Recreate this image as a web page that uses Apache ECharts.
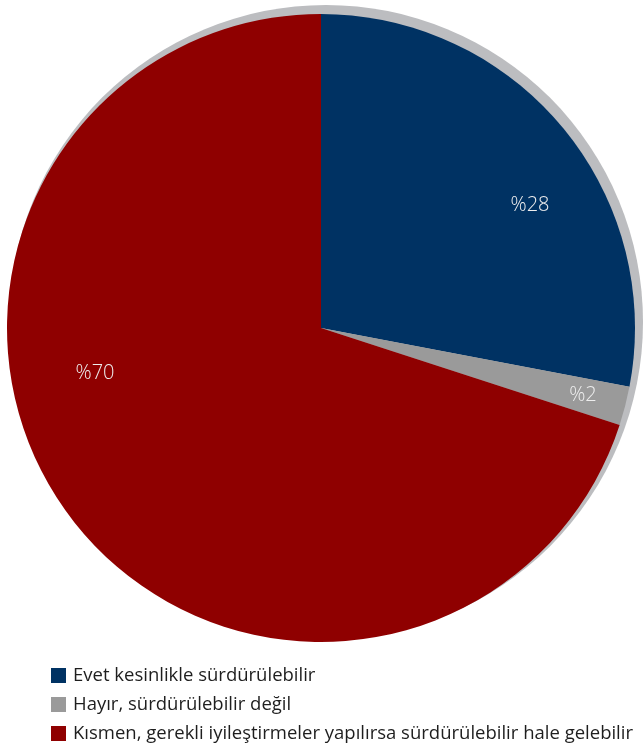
<!DOCTYPE html>
<html>
<head>
<meta charset="utf-8">
<style>
  html, body { margin: 0; padding: 0; background: #ffffff; }
  #chart { width: 643px; height: 747px; }
</style>
<script src="https://cdn.jsdelivr.net/npm/echarts@6/dist/echarts.min.js"></script>
</head>
<body>
<div id="chart"></div>
<script>
// Answers to "is it sustainable?" (percent of respondents)
const categories = [
  'Evet kesinlikle sürdürülebilir',
  'Hayır, sürdürülebilir değil',
  'Kısmen, gerekli iyileştirmeler yapılırsa sürdürülebilir hale gelebilir'
];
const values = [28, 2, 70];
const colors = ['#003263', '#9a9a9a', '#8f0000'];

// Label anchor points (pixel) for the percentage labels
const labelSpots = [[530, 205], [583, 395], [95, 373]];

const FONT = '"Open Sans", "Noto Sans", sans-serif';

const chart = echarts.init(document.getElementById('chart'), null, { renderer: 'canvas' });

const total = values.reduce((a, b) => a + b, 0);

chart.setOption({
  animation: false,
  backgroundColor: '#ffffff',
  legend: {
    orient: 'vertical',
    left: 51,
    top: 666,
    height: 90,
    padding: 0,
    itemWidth: 15,
    itemHeight: 15,
    itemGap: 10,
    icon: 'rect',
    data: categories,
    textStyle: {
      fontFamily: FONT,
      fontSize: 18.5,
      lineHeight: 18,
      color: '#1e1e1e',
      padding: [0, 0, 0, 2]
    }
  },
  series: [
    {
      // light grey rim behind the pie
      type: 'pie',
      silent: true,
      center: [326, 322],
      radius: 317,
      z: 1,
      label: { show: false },
      labelLine: { show: false },
      itemStyle: { color: '#bcbdc0', borderWidth: 0 },
      data: [{ value: total, name: '' }],
      legendHoverLink: false
    },
    {
      type: 'pie',
      center: [321, 328],
      radius: 314,
      startAngle: 90,
      clockwise: true,
      z: 2,
      itemStyle: { borderWidth: 0 },
      label: {
        show: true,
        position: 'inside',
        formatter: p => '%' + p.value,
        fontFamily: FONT,
        fontSize: 20,
        fontWeight: 300,
        color: '#eeeeee'
      },
      labelLine: { show: false },
      labelLayout: p => ({
        x: labelSpots[p.dataIndex][0],
        y: labelSpots[p.dataIndex][1],
        align: 'center',
        verticalAlign: 'middle'
      }),
      data: categories.map((name, i) => ({
        name,
        value: values[i],
        itemStyle: { color: colors[i] }
      }))
    }
  ]
});
</script>
</body>
</html>
